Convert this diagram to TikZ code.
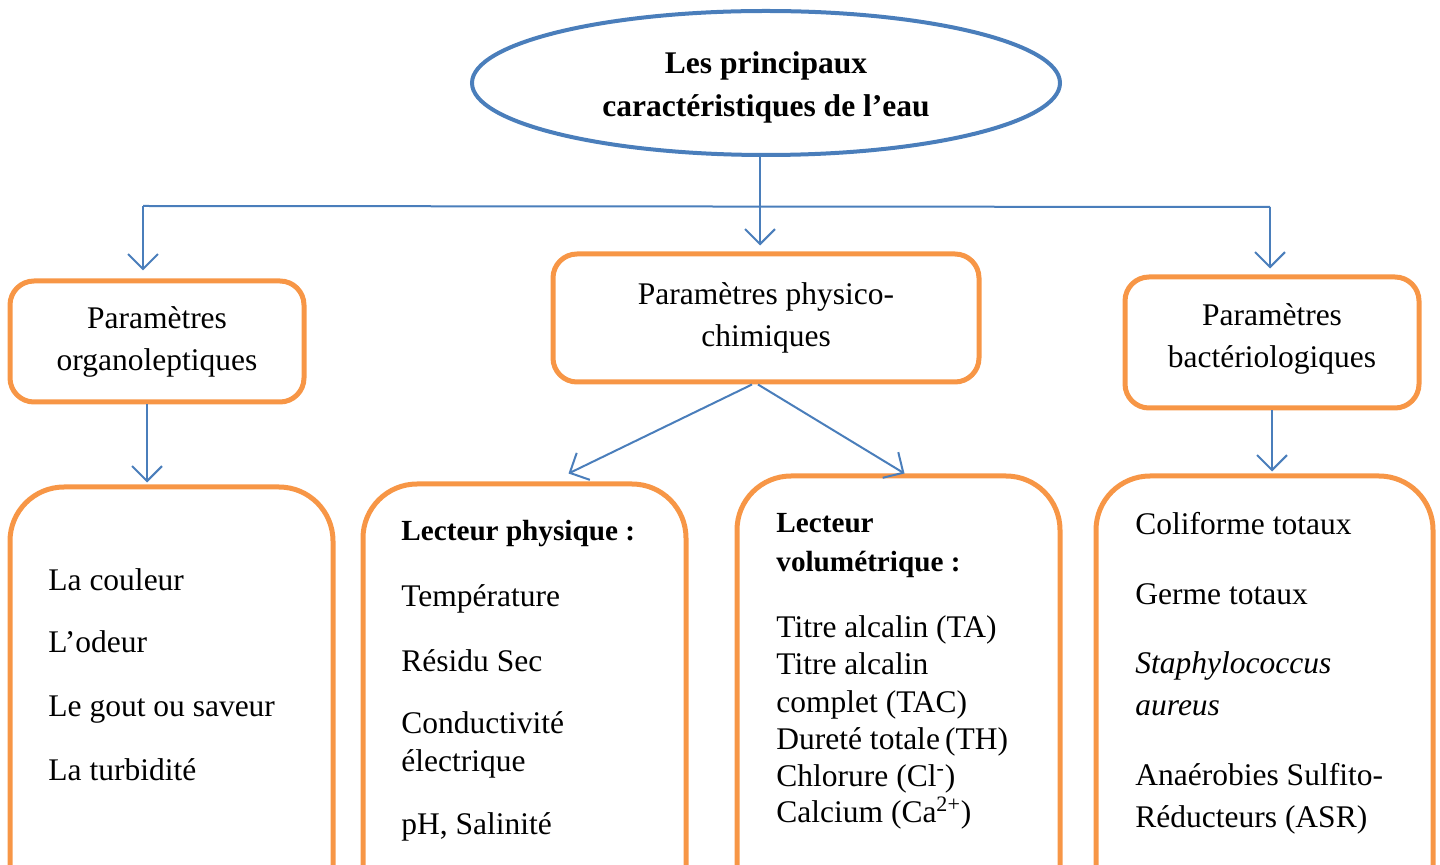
\documentclass[tikz,border=0pt]{standalone}
\usepackage{fontspec}
\setmainfont{Liberation Serif}
\usetikzlibrary{shapes.geometric,arrows.meta}
\definecolor{lblue}{HTML}{4A7EBB}
\definecolor{lorange}{HTML}{F79646}
\begin{document}
\begin{tikzpicture}[x=0.5pt,y=-0.5pt,
 every node/.style={font=\fontsize{15.75}{21}\selectfont},
 arr/.style={draw=lblue,line width=1pt,-{Straight Barb[length=7.5pt,width=15pt,line width=1pt]}},
 conn/.style={draw=lblue,line width=1pt},
 topbox/.style={draw=lorange,line width=2.5pt,rounded corners=12pt,align=center,inner sep=0pt},
 listbox/.style={draw=lorange,line width=2.5pt,rounded corners=27pt,inner sep=0pt},
 item/.style={anchor=base west,inner sep=0pt},
 bitem/.style={item,font=\bfseries\fontsize{14.6}{21}\selectfont},
 iitem/.style={item,font=\itshape\fontsize{15.75}{21}\selectfont}]
\useasboundingbox (0,0) rectangle (1440,865);

% root
\node[ellipse,draw=lblue,line width=2pt,minimum width=294pt,minimum height=72pt] (root) at (766,83) {};
\node[align=center,font=\bfseries\fontsize{15.75}{21.5}\selectfont] (roottxt) at (766,87) {Les principaux\\caractéristiques de l’eau};

% top boxes
\node[topbox,minimum width=147pt,minimum height=60.5pt] (b1) at (157,341.5) {Paramètres\\organoleptiques};
\node[topbox,minimum width=213pt,minimum height=64pt] (b2) at (766,318) {Paramètres physico-\\chimiques};
\node[topbox,minimum width=147pt,minimum height=65.5pt] (b3) at (1272,342.5) {};
\node[align=center] (b3t) at (1272,339) {Paramètres\\bactériologiques};

% bottom boxes
\node[listbox,minimum width=161.5pt,minimum height=356.5pt] (c1) at (171.5,843.5) {};
\node[listbox,minimum width=161.5pt,minimum height=358pt] (c2) at (524.5,842) {};
\node[listbox,minimum width=161.5pt,minimum height=362pt] (c3) at (898.5,838) {};
\node[listbox,minimum width=168.5pt,minimum height=362pt] (c4) at (1264.5,838) {};

% connectors
\coordinate (jl) at (143,206);
\coordinate (jr) at (1270,207);
\coordinate (x1) at (147,0);
\coordinate (xm) at (760,0);
\coordinate (x4) at (1272,0);
\draw[conn] (jl) -- (jr);
\draw[arr,shorten >=3pt] (xm |- root.south) -- (xm |- b2.north);
\draw[arr,shorten >=4pt] (jl) -- (jl |- b1.north);
\draw[arr,shorten >=3pt] (jr) -- (jr |- b3.north);
\draw[arr,shorten >=1pt] (x1 |- b1.south) -- (x1 |- c1.north);
\draw[arr] ([xshift=-7pt]b2.south) -- ([xshift=22pt,yshift=4pt]c2.north);
\draw[arr] ([xshift=-4pt]b2.south) -- ([xshift=3pt]c3.north);
\draw[arr,shorten >=1pt] (x4 |- b3.south) -- (x4 |- c4.north);

% list texts
\node[item] (t11) at (48,590) {La couleur};
\node[item] (t12) at (48,653) {L’odeur};
\node[item] (t13) at (48,716) {Le gout ou saveur};
\node[item] (t14) at (48,780) {La turbidité};

\node[bitem] (t21) at (401,541) {Lecteur physique :};
\node[item] (t22) at (401,607) {Température};
\node[item] (t23) at (401,671) {Résidu Sec};
\node[item] (t24) at (401,733) {Conductivité};
\node[item] (t25) at (401,771) {électrique};
\node[item] (t26) at (401,834) {pH, Salinité};

\node[bitem] (t31) at (776,533) {Lecteur};
\node[bitem] (t32) at (776,572) {volumétrique :};
\node[item] (t33) at (776,638) {Titre alcalin (TA)};
\node[item] (t34) at (776,675) {Titre alcalin};
\node[item] (t35) at (776,712) {complet (TAC)};
\node[item] (t36) at (776,749) {Dureté totale\,(TH)};
\node[item] (t37) at (776,786) {Chlorure (Cl\textsuperscript{-})};
\node[item] (t38) at (776,822) {Calcium (Ca\textsuperscript{2+})};

\node[item] (t41) at (1135,535) {Coliforme totaux};
\node[item] (t42) at (1135,604) {Germe totaux};
\node[iitem] (t43) at (1135,673) {Staphylococcus};
\node[iitem] (t44) at (1135,715) {aureus};
\node[item] (t45) at (1135,785) {Anaérobies Sulfito-};
\node[item] (t46) at (1135,827) {Réducteurs (ASR)};
\end{tikzpicture}
\end{document}
